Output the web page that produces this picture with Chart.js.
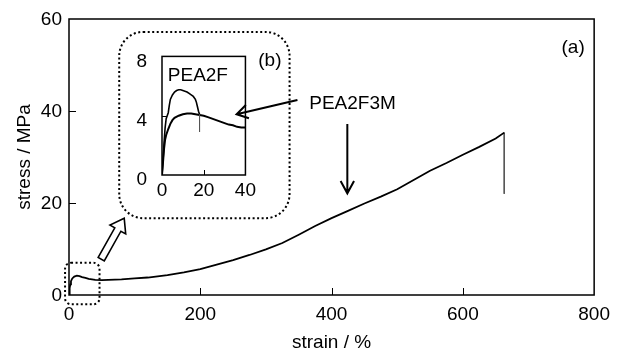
<!DOCTYPE html>
<html>
<head>
<meta charset="utf-8">
<script src="https://cdn.jsdelivr.net/npm/chart.js@4.4.1/dist/chart.umd.min.js"></script>
<style>
  body { margin: 0; background: #fff; }
  #wrap { position: relative; width: 618px; height: 352px; }
  #main { position: absolute; left: 0; top: 0; }
  #inset { position: absolute; left: 120px; top: 30px; }
</style>
</head>
<body>
<div id="wrap">
  <canvas id="main" width="618" height="352"></canvas>
  <canvas id="inset" width="140" height="175"></canvas>
</div>
<script>
// Stress-strain curves, main plot (a) + zoomed inset (b)
const FONT = '"Liberation Sans", Arial, sans-serif';

// main plot: PEA2F3M
const mainStrain = [0,1,2,3,5,8,12,16,20,25,30,40,50,60,80,100,120,150,175,200,225,250,275,300,325,350,375,400,425,450,475,500,525,550,575,600,625,650,663];
const mainStress = [0,1.5,2.3,3.0,3.6,4.0,4.2,4.1,3.9,3.7,3.5,3.3,3.25,3.3,3.4,3.6,3.8,4.3,4.9,5.6,6.6,7.6,8.7,9.9,11.3,13.1,15.0,16.7,18.3,19.9,21.4,23.0,25.0,27.0,28.7,30.5,32.2,34.0,35.3];
const mainBreakStrain = [663,663];
const mainBreakStress = [35.3,22];

// inset: PEA2F and PEA2F3M
const pea2fStrain = [0,0.5,1,1.5,2,2.5,3,3.5,4,5,6,7,8,9,10,11,12,13,14,15,16,16.5,17,17.5,18];
const pea2fStress = [0,1.0,2.2,3.2,3.8,4.0,4.2,4.7,5.1,5.4,5.6,5.7,5.75,5.75,5.7,5.65,5.6,5.5,5.4,5.3,5.1,4.9,4.6,4.3,4.1];
const pea2fBreakStrain = [18,18];
const pea2fBreakStress = [4.1,2.9];
const pea2f3mStrain = [0,0.5,1,1.5,2,3,4,5,6,8,10,12,14,16,18,20,22,24,26,28,30,32,34,36,38,40];
const pea2f3mStress = [0,0.9,1.8,2.4,2.7,3.1,3.45,3.7,3.85,4.0,4.1,4.15,4.15,4.1,4.05,4.0,3.9,3.8,3.7,3.6,3.5,3.4,3.35,3.25,3.2,3.2];

// ticks
const mainXTicks = [0,200,400,600,800];
const mainYTicks = [0,20,40,60];
const insetXTicks = [0,20,40];
const insetYTicks = [0,4,8];

const pts = (xs, ys) => xs.map((x, i) => ({x: x, y: ys[i]}));
const font19 = {family: FONT, size: 19};

function lineSet(data, color, width) {
    return {data: data, showLine: true, borderColor: color, borderWidth: width,
            pointRadius: 0, fill: false, tension: 0};
}

// frame + inward tick marks
function frame(chart, xTicks, yTicks, len) {
    const ctx = chart.ctx, a = chart.chartArea;
    const sx = chart.scales.x, sy = chart.scales.y;
    ctx.save();
    ctx.strokeStyle = '#000';
    ctx.lineWidth = 1.5;
    ctx.strokeRect(a.left, a.top, a.right - a.left, a.bottom - a.top);
    ctx.lineWidth = 1;
    ctx.beginPath();
    xTicks.slice(1, -1).forEach(v => {
        const p = Math.round(sx.getPixelForValue(v)) + 0.5;
        ctx.moveTo(p, a.bottom); ctx.lineTo(p, a.bottom - len);
    });
    yTicks.slice(1, -1).forEach(v => {
        const p = Math.round(sy.getPixelForValue(v)) + 0.5;
        ctx.moveTo(a.left, p); ctx.lineTo(a.left + len, p);
    });
    ctx.stroke();
    ctx.restore();
}

const mainDecor = {
    id: 'mainDecor',
    afterDraw(chart) {
        frame(chart, mainXTicks, mainYTicks, 7);
        const ctx = chart.ctx;
        const px = v => chart.scales.x.getPixelForValue(v);
        const py = v => chart.scales.y.getPixelForValue(v);
        ctx.save();
        ctx.fillStyle = '#000';
        ctx.strokeStyle = '#000';
        ctx.font = '19px ' + FONT;
        ctx.textBaseline = 'middle';
        ctx.textAlign = 'center';
        ctx.fillText('(a)', px(768), py(53.7));
        ctx.fillText('(b)', px(306), py(50.9));
        ctx.textAlign = 'left';
        ctx.fillText('PEA2F3M', px(366), py(41.5));

        // dotted boxes
        ctx.lineWidth = 2;
        ctx.setLineDash([2, 2.5]);
        ctx.beginPath();
        ctx.roundRect(px(76.5), py(57.2), px(336) - px(76.5), py(16.7) - py(57.2), 24);
        ctx.stroke();
        ctx.beginPath();
        ctx.roundRect(px(-6), py(7), px(46.5) - px(-6), py(-2) - py(7), 6);
        ctx.stroke();
        ctx.setLineDash([]);

        // open arrows
        const arrow = (x0, y0, x1, y1, len, spread) => {
            const ang = Math.atan2(y1 - y0, x1 - x0);
            ctx.beginPath();
            ctx.moveTo(x0, y0); ctx.lineTo(x1, y1);
            ctx.moveTo(x1 - len * Math.cos(ang - spread), y1 - len * Math.sin(ang - spread));
            ctx.lineTo(x1, y1);
            ctx.lineTo(x1 - len * Math.cos(ang + spread), y1 - len * Math.sin(ang + spread));
            ctx.stroke();
        };
        ctx.lineWidth = 2;
        arrow(px(348), py(42.4), px(255.3), py(39.3), 13, 0.55);
        arrow(px(424), py(37.2), px(424), py(22.1), 14, 0.5);

        // hollow block arrow
        const tx = px(49.1), ty = py(7.8), hx = px(84.1), hy = py(16.7);
        const L = Math.hypot(hx - tx, hy - ty);
        ctx.translate(tx, ty);
        ctx.rotate(Math.atan2(hy - ty, hx - tx));
        const sw = 3.5, hw = 9, hl = 13;
        ctx.beginPath();
        ctx.moveTo(0, -sw); ctx.lineTo(L - hl, -sw); ctx.lineTo(L - hl, -hw);
        ctx.lineTo(L, 0);
        ctx.lineTo(L - hl, hw); ctx.lineTo(L - hl, sw); ctx.lineTo(0, sw);
        ctx.closePath();
        ctx.fillStyle = '#fff';
        ctx.fill();
        ctx.lineWidth = 1.6;
        ctx.stroke();
        ctx.restore();
    }
};

new Chart(document.getElementById('main'), {
    type: 'scatter',
    data: {
        datasets: [
            lineSet(pts(mainStrain, mainStress), '#000', 1.8),
            lineSet(pts(mainBreakStrain, mainBreakStress), '#555', 1)
        ]
    },
    options: {
        responsive: false,
        animation: false,
        layout: { padding: { top: 19, right: 16, left: 0, bottom: 0 } },
        plugins: { legend: { display: false }, tooltip: { enabled: false } },
        scales: {
            x: {
                type: 'linear', min: 0, max: 800,
                afterFit: s => { s.height = 57; },
                afterBuildTicks: s => { s.ticks = mainXTicks.map(v => ({value: v})); },
                grid: { display: false, drawTicks: false },
                border: { display: false },
                ticks: { color: '#000', font: font19, padding: 8, maxRotation: 0 },
                title: { display: true, text: 'strain / %', color: '#000',
                         font: {family: FONT, size: 19, lineHeight: 1}, padding: 0 }
            },
            y: {
                min: 0, max: 60,
                afterFit: s => { s.width = 69; },
                afterBuildTicks: s => { s.ticks = mainYTicks.map(v => ({value: v})); },
                grid: { display: false, drawTicks: false },
                border: { display: false },
                ticks: { color: '#000', font: font19, padding: 7, labelOffset: 1 },
                title: { display: true, text: 'stress / MPa', color: '#000',
                         font: {family: FONT, size: 19, lineHeight: 1}, padding: {top: 15, bottom: 0} }
            }
        }
    },
    plugins: [mainDecor]
});

const insetDecor = {
    id: 'insetDecor',
    afterDraw(chart) {
        frame(chart, insetXTicks, insetYTicks, 5);
        const ctx = chart.ctx;
        ctx.save();
        ctx.fillStyle = '#000';
        ctx.font = '19px ' + FONT;
        ctx.textAlign = 'center';
        ctx.textBaseline = 'middle';
        ctx.fillText('PEA2F', chart.scales.x.getPixelForValue(17.2), chart.scales.y.getPixelForValue(6.7));
        ctx.restore();
    }
};

new Chart(document.getElementById('inset'), {
    type: 'scatter',
    data: {
        datasets: [
            lineSet(pts(pea2fStrain, pea2fStress), '#000', 1.6),
            lineSet(pts(pea2fBreakStrain, pea2fBreakStress), '#555', 1),
            lineSet(pts(pea2f3mStrain, pea2f3mStress), '#000', 2)
        ]
    },
    options: {
        responsive: false,
        animation: false,
        layout: { padding: { top: 21, right: 12, left: 0, bottom: 0 } },
        plugins: { legend: { display: false }, tooltip: { enabled: false } },
        scales: {
            x: {
                type: 'linear', min: 0, max: 40,
                afterFit: s => { s.height = 30; },
                afterBuildTicks: s => { s.ticks = insetXTicks.map(v => ({value: v})); },
                grid: { display: false, drawTicks: false },
                border: { display: false },
                ticks: { color: '#000', font: font19, padding: 4, maxRotation: 0 }
            },
            y: {
                min: 0, max: 8,
                afterFit: s => { s.width = 42; },
                afterBuildTicks: s => { s.ticks = insetYTicks.map(v => ({value: v})); },
                grid: { display: false, drawTicks: false },
                border: { display: false },
                ticks: { color: '#000', font: font19, padding: 15, labelOffset: 5 }
            }
        }
    },
    plugins: [insetDecor]
});
</script>
</body>
</html>
